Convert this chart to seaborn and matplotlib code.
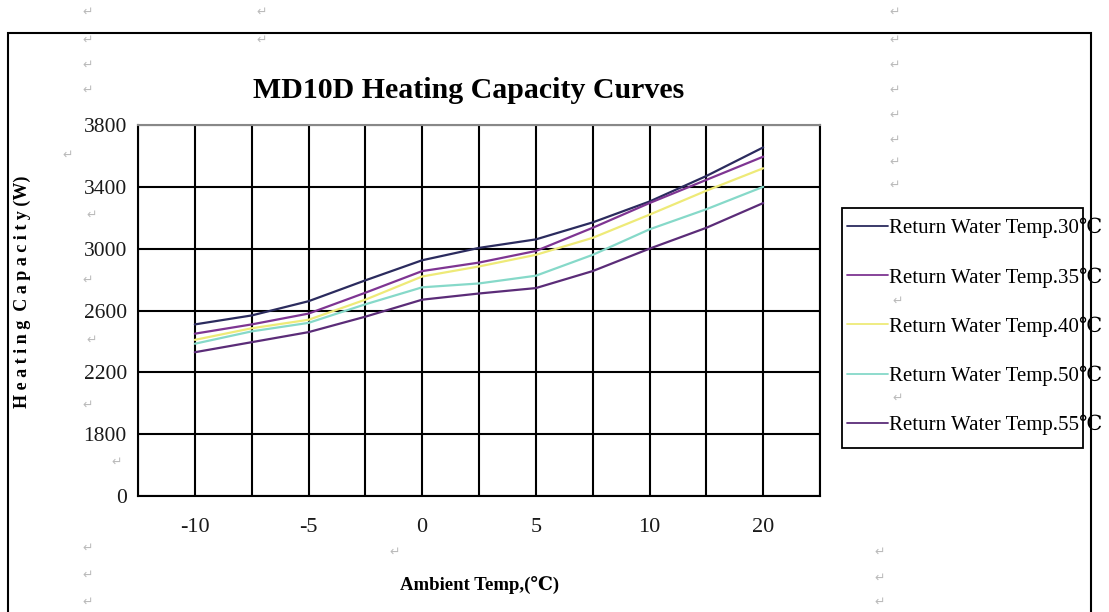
import numpy as np
import pandas as pd
import matplotlib
matplotlib.use("Agg")
import matplotlib.pyplot as plt
from matplotlib.patches import Rectangle
import seaborn as sns

# ==================== data ====================
ambient_temp = [-10, -7.5, -5, -2.5, 0, 2.5, 5, 7.5, 10, 15, 20]
tick_labels = ["-10", "-5", "0", "5", "10", "20"]
tick_temps = [-10, -5, 0, 5, 10, 20]

series_names = ["Return Water Temp.30℃", "Return Water Temp.35℃",
                "Return Water Temp.40℃", "Return Water Temp.50℃",
                "Return Water Temp.55℃"]
cap_30 = [2510, 2568, 2660, 2795, 2925, 3005, 3060, 3170, 3305, 3470, 3655]
cap_35 = [2450, 2510, 2580, 2715, 2855, 2910, 2985, 3135, 3295, 3445, 3595]
cap_40 = [2410, 2485, 2540, 2670, 2820, 2885, 2960, 3070, 3220, 3375, 3520]
cap_50 = [2385, 2465, 2520, 2640, 2750, 2775, 2825, 2960, 3125, 3255, 3400]
cap_55 = [2330, 2395, 2460, 2560, 2670, 2710, 2745, 2855, 3000, 3135, 3295]

y_ticks = [1400, 1800, 2200, 2600, 3000, 3400, 3800]
y_tick_labels = ["0", "1800", "2200", "2600", "3000", "3400", "3800"]

colors = ["#2b2b5e", "#7e3592", "#eeea78", "#86d9c9", "#5b2c78"]

# categorical x axis: every reading sits on its own grid line
pos = {t: i + 1 for i, t in enumerate(ambient_temp)}
rows = []
for name, vals in zip(series_names, [cap_30, cap_35, cap_40, cap_50, cap_55]):
    for t, v in zip(ambient_temp, vals):
        rows.append({"pos": pos[t], "cap": v, "series": name})
df = pd.DataFrame(rows)

# ==================== plot ====================
sns.set_style("white")
plt.rcParams["font.family"] = ["Liberation Serif", "DejaVu Serif", "DejaVu Sans"]
plt.rcParams["text.color"] = "black"

W, H = 1109, 612
fig = plt.figure(figsize=(W / 100, H / 100), dpi=100)
ax = fig.add_axes([138 / W, 1 - 496 / H, (820 - 138) / W, (496 - 125) / H])

sns.lineplot(data=df, x="pos", y="cap", hue="series", palette=dict(zip(series_names, colors)),
             sort=False, linewidth=1.6, ax=ax)

ax.set_xlim(0, 12)
ax.set_ylim(y_ticks[0], y_ticks[-1])
ax.set_xticks([pos[t] for t in tick_temps])
ax.set_xticklabels(tick_labels)
ax.set_xticks(range(0, 13), minor=True)
ax.set_yticks(y_ticks)
ax.set_yticklabels(y_tick_labels)
ax.grid(True, which="both", color="black", linewidth=1.5)
ax.tick_params(which="both", length=0)
ax.tick_params(axis="x", pad=16, labelsize=16, colors="#1a1a1a")
ax.tick_params(axis="y", pad=8, labelsize=15.5, colors="#1a1a1a")
for side, sp in ax.spines.items():
    sp.set_color("#888888" if side == "top" else "black")
    sp.set_linewidth(1.5)
ax.set_xlabel("")
ax.set_ylabel("")

# legend: text runs past its box in the original, so the box is drawn on its own
leg = ax.legend(loc="upper left", bbox_to_anchor=(847 / W, 1 - 218 / H),
                bbox_transform=fig.transFigure, borderaxespad=0, frameon=False,
                fontsize=15, labelspacing=1.38, handlelength=1.95,
                handletextpad=0.05, borderpad=0)
for line in leg.get_lines():
    line.set_linewidth(1.3)
fig.patches.append(Rectangle((842 / W, 1 - 448 / H), (1083 - 842) / W, (448 - 208) / H,
                             transform=fig.transFigure, fill=False,
                             edgecolor="black", linewidth=1.3))

fig.text(469 / W, 1 - 90 / H, "MD10D Heating Capacity Curves", ha="center", va="center",
         fontsize=21.5, fontweight="bold")
fig.text(480 / W, 1 - 585 / H, "Ambient Temp,(℃)", ha="center", va="center",
         fontsize=13.5, fontweight="bold")
fig.text(22 / W, 1 - 292 / H, "H e a t i n g  C a p a c i t y (W)", ha="center", va="center",
         rotation=90, fontsize=13, fontweight="bold")

# outer page frame
fig.patches.append(Rectangle((8 / W, -0.05), (1091 - 8) / W, 1.05 - 33 / H,
                             transform=fig.transFigure, fill=False,
                             edgecolor="black", linewidth=1.5))

# stray paragraph marks from the source document
marks = [(88, 12), (262, 12), (895, 12), (88, 40), (262, 40), (895, 40), (88, 65),
         (895, 65), (88, 90), (895, 90), (895, 115), (895, 140), (895, 162), (895, 185),
         (68, 155), (92, 215), (88, 280), (92, 340), (88, 405), (117, 462),
         (88, 548), (88, 575), (88, 602), (395, 552), (880, 552), (880, 578), (880, 602),
         (898, 301), (898, 398)]
for mx, my in marks:
    fig.text(mx / W, 1 - my / H, "↵", ha="center", va="center", fontsize=9,
             color="#bbbbbb", family="DejaVu Sans")

fig.savefig("out.png", dpi=100)
